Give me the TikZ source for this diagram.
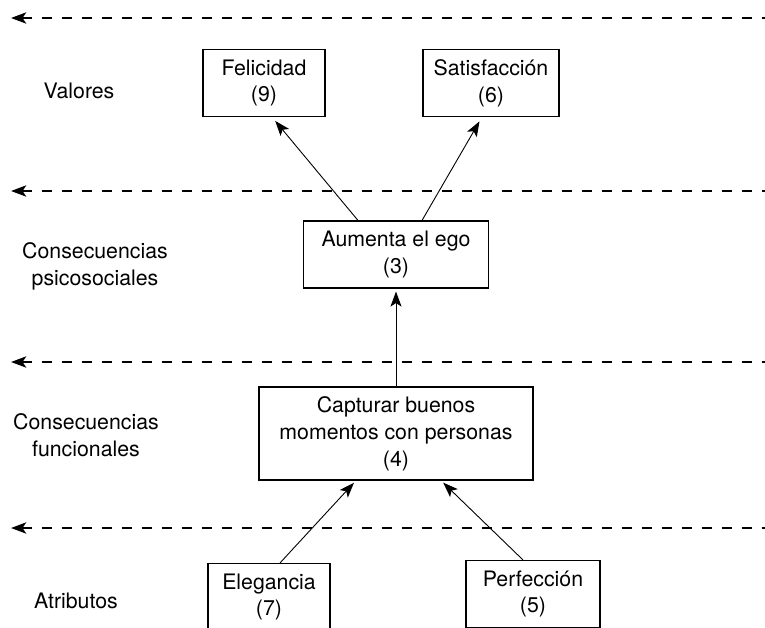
\documentclass[tikz,border=0pt]{standalone}
\usepackage{fontspec}
\setmainfont{TeX Gyre Heros}
\usetikzlibrary{positioning,arrows.meta}

\begin{document}
\begin{tikzpicture}[x=1pt,y=-1pt,
    every node/.style={font=\fontsize{21.3}{26.8}\selectfont},
    box/.style={draw,line width=1.1pt,align=center,inner sep=0pt,minimum height=67pt},
    lbl/.style={align=center,inner sep=0pt},
    link/.style={-{Stealth[length=15pt,width=11pt,inset=3.5pt]},line width=0.9pt,shorten >=3pt},
    level/.style={{Stealth[length=15pt,width=11pt,inset=3.5pt]}-,line width=2.9pt,dash pattern=on 10pt off 10pt}]
    \path[use as bounding box,clip] (0,0) rectangle (765,627);
    % level lines
    \foreach \y [count=\i] in {18,191,362,528} {
        \coordinate (w\i) at (11,\y);
        \coordinate (e\i) at (775,\y);
        \draw[level] (w\i) -- (e\i);
    }
    % level names
    \node[lbl] (valores) at (79,91) {Valores};
    \node[lbl] (psico) at (95,266.5) {Consecuencias\\psicosociales};
    \node[lbl] (func) at (86,435) {Consecuencias\\funcionales};
    \node[lbl] (atrib) at (76,601) {Atributos};
    % boxes
    \node[box,minimum width=122pt] (felicidad) at (264,83) {Felicidad\\(9)};
    \node[box,minimum width=136pt] (satisf) at (491,83) {Satisfacción\\(6)};
    \node[box,minimum width=185pt] (ego) at (396,254.5) {Aumenta el ego\\(3)};
    \node[box,minimum width=274pt,minimum height=93pt] (capturar) at (396,433.5) {Capturar buenos\\momentos con personas\\(4)};
    \node[box,minimum width=122pt] (elegancia) at (269,597) {Elegancia\\(7)};
    \node[box,minimum width=134pt] (perfeccion) at (533,594) {Perfección\\(5)};
    % links
    \draw[link,shorten >=5pt] ([xshift=-38pt]ego.north) -- ([xshift=8pt]felicidad.south);
    \draw[link,shorten >=5pt] ([xshift=26pt]ego.north) -- ([xshift=-9pt]satisf.south);
    \draw[link] (capturar.north) -- (ego.south);
    \draw[link] ([xshift=11pt]elegancia.north) -- ([xshift=-40pt]capturar.south);
    \draw[link] ([xshift=-10pt]perfeccion.north) -- ([xshift=45pt]capturar.south);
\end{tikzpicture}
\end{document}
